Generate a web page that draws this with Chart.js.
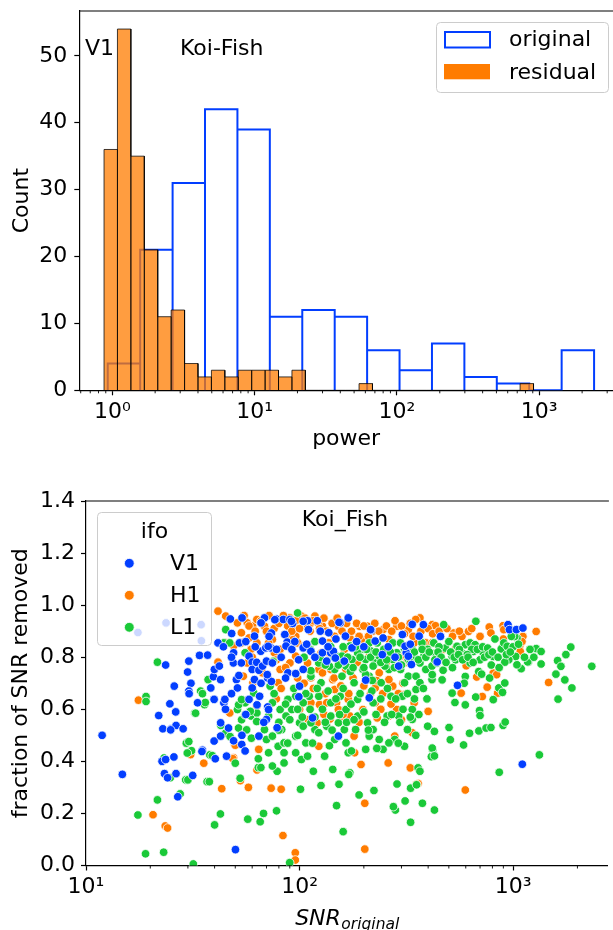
<!DOCTYPE html>
<html>
<head>
<meta charset="utf-8">
<script src="https://cdn.jsdelivr.net/npm/chart.js@4.4.1/dist/chart.umd.min.js"></script>
<style>
html,body{margin:0;padding:0;background:#fff;width:613px;height:930px;overflow:hidden}
canvas{position:absolute;left:0}
#c1{top:0}
#c2{top:465px}
</style>
</head>
<body>
<canvas id="c1" width="613" height="465"></canvas>
<canvas id="c2" width="613" height="465"></canvas>
<script>
// ---------------- DATA ----------------
// Top panel: histogram of power (log bins)
const originalEdges = [0.929,1.570,2.653,4.482,7.572,12.79,21.62,36.53,61.72,104.3,176.2,297.7,503.0,849.8,1436,2427];
const originalCounts = [4,21,31,42,39,11,12,11,6,3,7,2,1,0,6];
const residualEdges = [0.875,1.087,1.351,1.679,2.086,2.592,3.220,4.001,4.971,6.176,7.674,9.535,11.85,14.72,18.29,22.73,28.23,35.09,43.60,54.17,67.30,83.62,103.9,129.1,160.4,199.3,247.6,307.7,382.3,475.0,590.2,733.3,911.1];
const residualCounts = [36,54,35,21,11,12,4,2,3,2,3,3,3,2,3,0,0,0,0,1,0,0,0,0,0,0,0,0,0,0,0,1];
const powerMajorTicks = [1,10,100,1000];
const powerTickLabels = ['10\u2070','10\u00b9','10\u00b2','10\u00b3'];
const powerMinorTicks = [0.6,0.7,0.8,0.9,2,3,4,5,6,7,8,9,20,30,40,50,60,70,80,90,200,300,400,500,600,700,800,900,2000,3000];
const countTicks = [0,10,20,30,40,50];

// Bottom panel: fraction of SNR removed vs SNR_original, per detector
const v1Points = [[11.9,0.50],[14.8,0.35],[23.6,0.77],[21.9,0.576],[22.9,0.525],[25.9,0.689],[24.7,0.621],[26.3,0.59],[25.1,0.525],[26.4,0.538],[28.5,0.525],[22.7,0.40],[23.6,0.407],[25.8,0.417],[23.3,0.353],[24.1,0.337],[26.4,0.353],[26.9,0.264],[31.6,0.346],[30.3,0.785],[29.9,0.743],[31.0,0.70],[30.3,0.67],[30.4,0.66],[33.3,0.625],[34.0,0.807],[37.1,0.808],[35.1,0.443],[38.4,0.682],[39.5,0.725],[39.9,0.753],[39.8,0.638],[39.8,0.478],[40.3,0.41],[41.5,0.855],[42.7,0.548],[42.7,0.497],[42.1,0.766],[42.7,0.714],[44.2,0.625],[44.7,0.638],[45.5,0.42],[47.4,0.947],[48.1,0.891],[49.1,0.817],[50.1,0.061],[49.0,0.778],[50.6,0.714],[51.2,0.682],[52.3,0.855],[53.8,0.951],[53.4,0.778],[53.6,0.465],[53.7,0.50],[55.6,0.44],[58.0,0.804],[60.0,0.781],[60.0,0.753],[60.0,0.682],[58.0,0.638],[61.5,0.714],[61.5,0.881],[63.0,0.78],[64.5,0.75],[64.5,0.497],[65.8,0.823],[67.1,0.766],[68.5,0.951],[69.5,0.836],[70.0,0.785],[70.9,0.72],[70.9,0.609],[71.6,0.599],[70.0,0.561],[73.3,0.836],[74.6,0.778],[77.8,0.947],[78.5,0.529],[83.9,0.945],[85.3,0.887],[87.5,0.858],[86.4,0.843],[88.2,0.74],[90.1,0.945],[92.8,0.93],[92.0,0.83],[95.9,0.737],[100,0.689],[99.2,0.648],[104,0.836],[104,0.753],[109,0.94],[110,0.906],[113,0.823],[115,0.567],[121,0.94],[128,0.862],[128,0.817],[134,0.785],[137,0.894],[140,0.817],[144,0.823],[147,0.797],[152,0.497],[155,0.932],[162,0.785],[164,0.881],[169,0.951],[176,0.836],[204,0.712],[212,0.644],[217,0.904],[226,0.862],[246,0.874],[244,0.81],[291,0.766],[303,0.887],[316,0.817],[323,0.804],[334,0.772],[337,0.926],[363,0.881],[946,0.925],[961,0.906],[1036,0.906],[1111,0.912],[457,0.88],[441,0.782],[549,0.692],[1104,0.389],[17.5,0.895],[23.7,0.932],[34.6,0.925],[34.7,0.863],[24.9,0.521],[34.9,0.438],[46.5,0.528],[49.1,0.479],[63.2,0.617],[76.6,0.944],[91.6,0.938],[104,0.938],[153,0.934],[215,0.906],[380,0.925],[312,0.842],[73.8,0.893],[71.3,0.842],[66,0.932],[73.8,0.707],[70.6,0.733],
[44,0.84],[48,0.80],[52,0.73],[56,0.86],[62,0.84],[66,0.70],[72,0.88],[78,0.83],[82,0.80],[86,0.72],[95,0.86],[99,0.79],[108,0.85],[118,0.80],[125,0.90],[136,0.84],[148,0.87],[185,0.86],[200,0.84],[260,0.84],[280,0.80],[330,0.85],[45,0.60],[48,0.66],[56,0.58],[65,0.65],[68,0.55]];

const h1Points = [[17.6,0.635],[41.5,0.781],[41.5,0.977],[45.1,0.958],[47.1,0.586],[49.7,0.465],[49.1,0.414],[51.2,0.932],[53.4,0.894],[56.9,0.932],[60.3,0.919],[63.1,0.945],[58,0.874],[59.3,0.83],[56.9,0.778],[54.5,0.727],[60.5,0.702],[63.1,0.612],[64.4,0.446],[68.5,0.919],[74.6,0.868],[76.2,0.817],[81.1,0.753],[79.4,0.702],[77.8,0.64],[88.2,0.881],[93.9,0.919],[97.9,0.855],[95.9,0.804],[102,0.958],[109,0.913],[113,0.932],[118,0.958],[113,0.721],[113,0.625],[123,0.458],[121,0.548],[124,0.618],[137,0.855],[140,0.753],[143,0.714],[146,0.676],[149,0.625],[139,0.563],[152,0.919],[162,0.83],[165,0.753],[169,0.638],[158,0.574],[180,0.497],[181,0.433],[191,0.919],[195,0.868],[194,0.388],[208,0.919],[212,0.804],[226,0.682],[231,0.567],[236,0.74],[246,0.906],[260,0.394],[262,0.574],[273,0.689],[279,0.497],[285,0.919],[297,0.804],[310,0.657],[320,0.522],[330,0.375],[337,0.51],[344,0.625],[359,0.315],[366,0.951],[382,0.919],[390,0.855],[433,0.919],[95.9,0.881],[128,0.919],[172,0.874],[183,0.855],[221,0.906],[262,0.868],[323,0.906],[344,0.855],[417,0.855],[470,0.83],[81.1,0.83],[71.6,0.855],[63.1,0.855],[45.1,0.855],[49.1,0.843],[53.4,0.855],[90.1,0.778],[109,0.778],[123,0.753],[134,0.625],[152,0.599],[172,0.574],[198,0.599],[226,0.625],[262,0.714],[285,0.599],[20.6,0.195],[23.5,0.152],[24.1,0.144],[30.9,0.426],[35.6,0.393],[43.2,0.295],[48.7,0.41],[52.8,0.326],[50,0.462],[57.6,0.3],[63.2,0.367],[95.5,0.049],[95.5,0.021],[83.6,0.115],[202,0.063],[202,0.239],[73.6,0.297],[82,0.293],[400,0.592],[353,0.312],[597,0.29],[571,0.662],[717,0.649],[756,0.685],[846,0.662],[1466,0.703],[773,0.916],[787,0.893],[897,0.921],[904,0.906],[1282,0.899],[1072,0.842],[1080,0.822],[1111,0.88],[418,0.925],[433,0.921],[526,0.893],[576,0.88],[618,0.899],[538,0.835],[603,0.767],[675,0.724],[807,0.739],[837,0.733],[89.9,0.951],[109,0.942],[122,0.932],[219,0.899],[329,0.803],[239,0.807],[173,0.842],[148,0.803],[138,0.816],[126,0.816],[113,0.822],[104,0.842],[93,0.867],[85.1,0.887],
[55,0.96],[58,0.92],[62,0.90],[66,0.94],[70,0.90],[72,0.96],[76,0.91],[80,0.93],[84,0.96],[88,0.92],[92,0.90],[96,0.94],[100,0.91],[106,0.95],[112,0.90],[116,0.94],[124,0.91],[130,0.95],[134,0.90],[142,0.93],[146,0.88],[150,0.95],[158,0.90],[166,0.93],[175,0.90],[185,0.93],[190,0.88],[200,0.92],[210,0.88],[225,0.93],[235,0.90],[255,0.92],[270,0.90],[280,0.94],[300,0.92],[310,0.89],[330,0.93],[340,0.88],[350,0.945],[370,0.90],[400,0.91],[420,0.89],[450,0.90],[490,0.91],[520,0.88],[560,0.90],[640,0.91],[700,0.88],[900,0.87],[1010,0.88],[1100,0.86],
[78,0.79],[86,0.76],[98,0.72],[105,0.70],[116,0.68],[128,0.74],[132,0.66],[145,0.72],[156,0.69],[170,0.66],[178,0.72],[186,0.78],[200,0.69],[215,0.66],[230,0.71],[245,0.66],[255,0.78],[268,0.62],[290,0.66],[305,0.70],[318,0.78],[60,0.80],[67,0.74],[82,0.68],[100,0.60],[110,0.56],[130,0.58],[160,0.58],[190,0.55],[240,0.60],[300,0.56]];

const l1Points = [[21.6,0.781],[32.3,0.586],[34.4,0.67],[35.9,0.618],[37.3,0.714],[44.2,0.855],[45.1,0.906],[47.1,0.855],[55.6,0.817],[59.3,0.574],[61.0,0.663],[63.1,0.554],[51.2,0.599],[63.1,0.586],[55.6,0.625],[19.1,0.649],[19.1,0.63],[17.5,0.194],[19.0,0.045],[21.6,0.252],[23.1,0.051],[23.2,0.413],[24.8,0.337],[27.6,0.275],[29.3,0.329],[30.0,0.329],[29.5,0.47],[30.3,0.476],[31.2,0.441],[29.8,0.432],[31.8,0.006],[36.9,0.322],[37.8,0.322],[38,0.425],[39,0.422],[40,0.156],[42.6,0.198],[52.7,0.335],[50,0.393],[57.2,0.178],[51.8,0.528],[56.5,0.521],[59.5,0.489],[64.1,0.376],[65.9,0.376],[64.1,0.41],[42.8,0.538],[32.6,0.585],[35.1,0.66],[36.2,0.626],[45,0.508],[47.3,0.495],[53.5,0.56],[55.5,0.579],[63,0.553],[51.8,0.617],[53.5,0.637],[58.8,0.592],[70,0.484],[71.6,0.433],[72.8,0.689],[74.6,0.625],[78.5,0.362],[79.4,0.458],[82.5,0.522],[84.6,0.433],[86.4,0.574],[92,0.599],[95.9,0.497],[97.9,0.97],[100,0.548],[102,0.407],[104,0.535],[107,0.471],[109,0.42],[111,0.65],[113,0.727],[116,0.362],[118,0.522],[123,0.778],[126,0.702],[131,0.42],[134,0.535],[137,0.843],[140,0.574],[143,0.369],[146,0.484],[149,0.804],[155,0.65],[158,0.727],[162,0.522],[165,0.599],[169,0.433],[172,0.356],[176,0.791],[180,0.702],[183,0.522],[187,0.638],[195,0.83],[198,0.753],[204,0.446],[208,0.548],[212,0.497],[217,0.823],[221,0.625],[226,0.778],[231,0.855],[236,0.484],[246,0.446],[251,0.804],[257,0.574],[262,0.753],[268,0.65],[273,0.855],[279,0.484],[291,0.574],[297,0.753],[303,0.65],[310,0.83],[320,0.522],[323,0.727],[337,0.561],[344,0.804],[351,0.676],[359,0.375],[366,0.362],[374,0.855],[390,0.753],[398,0.535],[417,0.714],[158,0.804],[172,0.843],[187,0.817],[204,0.791],[212,0.855],[236,0.804],[251,0.766],[273,0.791],[285,0.817],[297,0.855],[323,0.791],[337,0.83],[366,0.778],[382,0.804],[398,0.83],[417,0.766],[351,0.727],[241,0.702],[212,0.727],[262,0.804],[221,0.766],[165,0.766],[146,0.753],[123,0.65],[104,0.625],[95.9,0.65],[88.2,0.638],[81.1,0.599],[71.6,0.574],[68.5,0.522],[74.6,0.497],[84.6,0.471],[95.9,0.433],[84.6,0.394],[74.6,0.382],[113,0.548],[123,0.51],[140,0.625],[152,0.548],[165,0.471],[187,0.574],[221,0.522],[262,0.471],[310,0.458],[337,0.599],[310,0.702],[366,0.702],[75.2,0.784],[96.4,0.737],[113,0.748],[138,0.765],[159,0.78],[173,0.745],[204,0.733],[219,0.711],[89.9,0.011],[160,0.13],[331,0.166],[281,0.213],[312,0.248],[149,0.23],[190,0.271],[223,0.288],[286,0.313],[331,0.297],[353,0.31],[101,0.293],[126,0.307],[153,0.312],[170,0.35],[67.8,0.2],[78,0.21],[65.4,0.168],[420,0.444],[414,0.418],[376,0.239],[275,0.226],[669,0.938],[1282,0.833],[1862,0.839],[1766,0.81],[1615,0.787],[1674,0.765],[1586,0.735],[1746,0.713],[2335,0.765],[1884,0.682],[1352,0.822],[1180,0.782],[1091,0.756],[1042,0.771],[1028,0.803],[1042,0.874],[1017,0.88],[981,0.88],[954,0.79],[914,0.781],[880,0.832],[904,0.855],[938,0.842],[822,0.87],[807,0.803],[725,0.816],[700,0.79],[651,0.822],[629,0.778],[597,0.848],[576,0.816],[546,0.842],[518,0.803],[538,0.79],[482,0.835],[473,0.925],[425,0.855],[433,0.816],[441,0.778],[418,0.733],[465,0.713],[597,0.726],[690,0.745],[712,0.735],[776,0.72],[857,0.682],[914,0.701],[1170,0.782],[1352,0.774],[629,0.855],[664,0.848],[640,0.83],[680,0.83],[720,0.84],[760,0.835],[610,0.81],[560,0.83],[500,0.86],[450,0.84],[790,0.77],[860,0.76],[1000,0.84],[1130,0.80],[1250,0.80],[520,0.76],[470,0.75],[590,0.70],[428,0.213],[861,0.358],[1327,0.425],[508,0.483],[586,0.463],[501,0.53],[625,0.508],[691,0.517],[747,0.528],[787,0.53],[897,0.538],[918,0.551],[428,0.515],[418,0.451],[428,0.421],[696,0.595],[700,0.576],[518,0.662],[534,0.626],[597,0.617],[668,0.647],[807,0.637],[892,0.665],[1623,0.639],
[105,0.80],[112,0.83],[118,0.86],[125,0.80],[132,0.77],[140,0.84],[145,0.80],[152,0.77],[160,0.84],[168,0.80],[178,0.76],[183,0.84],[192,0.80],[200,0.76],[206,0.83],[215,0.80],[228,0.82],[240,0.78],[248,0.83],[256,0.79],[266,0.82],[278,0.76],[290,0.80],[300,0.77],[315,0.82],[330,0.78],[345,0.82],[360,0.79],[375,0.83],[390,0.80],[405,0.82],[430,0.79],[445,0.82],[460,0.80],[485,0.78],[510,0.82],[530,0.80],[555,0.81],[580,0.79],[615,0.80],[650,0.78],[735,0.80],[770,0.81],[800,0.82],[850,0.80],[930,0.81],[970,0.82],[1060,0.85],[1200,0.83],
[76,0.66],[80,0.55],[86,0.62],[90,0.56],[94,0.68],[98,0.60],[103,0.57],[107,0.66],[112,0.60],[118,0.57],[121,0.68],[128,0.60],[132,0.55],[136,0.67],[142,0.52],[148,0.64],[154,0.58],[160,0.68],[166,0.55],[174,0.62],[180,0.56],[192,0.66],[200,0.59],[210,0.52],[218,0.67],[228,0.58],[240,0.64],[250,0.55],[258,0.68],[270,0.58],[282,0.64],[295,0.55],[305,0.60],[320,0.66],[330,0.57],[345,0.64],[362,0.58],[380,0.68],[395,0.64],[115,0.47],[138,0.46],[175,0.44],[230,0.45],[290,0.47],[350,0.50],[88,0.47],[98,0.50],[80,0.52]];

const snrMajorTicks = [10,100,1000];
const snrTickLabels = ['10\u00b9','10\u00b2','10\u00b3'];
const snrMinorTicks = [20,30,40,50,60,70,80,90,200,300,400,500,600,700,800,900,2000];
const fracTicks = [0,0.2,0.4,0.6,0.8,1.0,1.2,1.4];

// ---------------- HELPERS ----------------
const FAMILY = '"DejaVu Sans", "Liberation Sans", sans-serif';
Chart.defaults.font.family = FAMILY;
Chart.defaults.color = '#000';
const FS = 22;

function histOutline(edges, counts) {
  const pts = [{x: edges[0], y: 0}];
  counts.forEach((c, i) => {
    pts.push({x: edges[i], y: c}, {x: edges[i + 1], y: c}, {x: edges[i + 1], y: 0});
  });
  return pts;
}
function labelFor(vals, labels, v) {
  const i = vals.findIndex(m => Math.abs(m - v) <= m * 1e-6);
  return i >= 0 ? labels[i] : '';
}
function rrect(ctx, x, y, w, h, r) {
  ctx.beginPath();
  ctx.moveTo(x + r, y);
  ctx.arcTo(x + w, y, x + w, y + h, r);
  ctx.arcTo(x + w, y + h, x, y + h, r);
  ctx.arcTo(x, y + h, x, y, r);
  ctx.arcTo(x, y, x + w, y, r);
  ctx.closePath();
}
function drawFrame(chart, minors) {
  const {ctx, chartArea: a, scales: {x}} = chart;
  ctx.save();
  ctx.strokeStyle = '#000';
  ctx.lineWidth = 1.2;
  ctx.beginPath(); ctx.moveTo(a.left, a.top); ctx.lineTo(a.right + 1, a.top); ctx.stroke();
  ctx.lineWidth = 0.9;
  minors.forEach(v => {
    const p = x.getPixelForValue(v);
    if (p < a.left || p > a.right) return;
    ctx.beginPath(); ctx.moveTo(p, a.bottom); ctx.lineTo(p, a.bottom + 3); ctx.stroke();
  });
  ctx.restore();
}
const toXY = arr => arr.map(([x, y]) => ({x, y}));
const fixX = (h) => (s) => { s.height = h; s.paddingLeft = 0; s.paddingRight = 0; };
const fixY = (w) => (s) => { s.width = w; s.paddingTop = 0; s.paddingBottom = 0; };

const blue = '#023eff', orange = '#ff7c00', green = '#1ac938';

// ---------------- TOP CHART ----------------
const topDeco = {
  id: 'topDeco',
  afterDraw(chart) {
    const ctx = chart.ctx;
    drawFrame(chart, powerMinorTicks);
    ctx.save();
    ctx.fillStyle = '#000';
    ctx.font = FS + 'px ' + FAMILY;
    ctx.textBaseline = 'alphabetic';
    ctx.textAlign = 'left';
    ctx.fillText('V1', 85, 55);
    ctx.fillText('Koi-Fish', 180, 55);
    // legend
    rrect(ctx, 436.5, 22.5, 172, 70, 4);
    ctx.fillStyle = 'rgba(255,255,255,0.8)';
    ctx.fill();
    ctx.strokeStyle = '#cccccc';
    ctx.lineWidth = 1;
    ctx.stroke();
    ctx.strokeStyle = blue;
    ctx.lineWidth = 2;
    ctx.strokeRect(445, 32, 45, 15.5);
    ctx.fillStyle = orange;
    ctx.fillRect(444, 64, 46, 15.3);
    ctx.fillStyle = '#000';
    ctx.fillText('original', 509, 46);
    ctx.fillText('residual', 509, 79);
    ctx.restore();
  }
};

new Chart(document.getElementById('c1'), {
  type: 'line',
  data: {
    datasets: [
      { label: 'residual', data: histOutline(residualEdges, residualCounts),
        borderColor: 'rgba(0,0,0,0.75)', borderWidth: 1, backgroundColor: 'rgba(255,124,0,0.75)',
        fill: 'origin', pointRadius: 0, tension: 0, order: 0 },
      { label: 'original', data: histOutline(originalEdges, originalCounts),
        borderColor: blue, borderWidth: 2, backgroundColor: 'rgba(0,0,0,0)',
        fill: false, pointRadius: 0, tension: 0, order: 1 }
    ]
  },
  options: {
    responsive: false, animation: false, devicePixelRatio: 1, events: [],
    layout: { padding: { top: 11, right: 0, bottom: 0, left: 0 } },
    plugins: { legend: { display: false }, tooltip: { enabled: false } },
    scales: {
      x: {
        type: 'logarithmic', position: 'bottom', min: 0.5864, max: 3296, z: 1,
        afterBuildTicks: s => { s.ticks = powerMajorTicks.map(v => ({ value: v })); },
        afterFit: fixX(74.7),
        ticks: { autoSkip: false, maxRotation: 0, minRotation: 0, padding: 4, color: '#000', font: { size: FS },
          callback: v => labelFor(powerMajorTicks, powerTickLabels, v) },
        grid: { drawOnChartArea: false, drawTicks: true, tickLength: 5, tickWidth: 1.2, tickColor: '#000' },
        border: { display: true, color: '#000', width: 1.2 },
        title: { display: true, text: 'power', color: '#000', font: { size: FS }, padding: { top: 0, bottom: 13 } }
      },
      y: {
        type: 'linear', position: 'left', min: 0, max: 56.7, z: 1,
        afterBuildTicks: s => { s.ticks = countTicks.map(v => ({ value: v })); },
        afterFit: fixY(79.3),
        ticks: { autoSkip: false, padding: 7, color: '#000', font: { size: FS }, callback: v => String(v) },
        grid: { drawOnChartArea: false, drawTicks: true, tickLength: 5, tickWidth: 1.2, tickColor: '#000' },
        border: { display: true, color: '#000', width: 1.2 },
        title: { display: true, text: 'Count', color: '#000', font: { size: FS }, padding: { top: 9, bottom: 0 } }
      }
    }
  },
  plugins: [topDeco]
});

// ---------------- BOTTOM CHART ----------------
const botDeco = {
  id: 'botDeco',
  afterDraw(chart) {
    const ctx = chart.ctx;
    const a = chart.chartArea;
    drawFrame(chart, snrMinorTicks);
    ctx.save();
    ctx.fillStyle = '#000';
    ctx.font = FS + 'px ' + FAMILY;
    ctx.textBaseline = 'alphabetic';
    ctx.textAlign = 'center';
    ctx.fillText('Koi_Fish', 345, 61);
    // legend
    rrect(ctx, 97.5, 47.5, 114, 133, 4);
    ctx.fillStyle = 'rgba(255,255,255,0.8)';
    ctx.fill();
    ctx.strokeStyle = '#cccccc';
    ctx.lineWidth = 1;
    ctx.stroke();
    ctx.fillStyle = '#000';
    ctx.fillText('ifo', 154.5, 73);
    ctx.textAlign = 'left';
    const items = [['V1', blue, 98.3, 105], ['H1', orange, 130.3, 137], ['L1', green, 162.3, 168.5]];
    items.forEach(([t, c, my, by]) => {
      ctx.beginPath();
      ctx.arc(129.3, my, 4.9, 0, Math.PI * 2);
      ctx.fillStyle = c; ctx.fill();
      ctx.strokeStyle = '#fff'; ctx.lineWidth = 0.8; ctx.stroke();
      ctx.fillStyle = '#000';
      ctx.fillText(t, 170, by);
    });
    // x-axis label: SNR_original (italic with subscript)
    const big = 'italic ' + FS + 'px ' + FAMILY;
    const small = 'italic 15.5px ' + FAMILY;
    ctx.font = big; const w1 = ctx.measureText('SNR').width;
    ctx.font = small; const w2 = ctx.measureText('original').width;
    const cx = (a.left + a.right) / 2;
    const x0 = cx - (w1 + w2) / 2;
    ctx.font = big; ctx.fillText('SNR', x0, 460);
    ctx.font = small; ctx.fillText('original', x0 + w1 + 0.5, 464);
    ctx.restore();
  }
};

const pointStyle = (color) => ({
  backgroundColor: color, borderColor: '#ffffff', borderWidth: 0.8, pointRadius: 4.3, pointHoverRadius: 4.3
});

new Chart(document.getElementById('c2'), {
  type: 'scatter',
  data: {
    datasets: [
      Object.assign({ label: 'V1', data: toXY(v1Points), order: 1 }, pointStyle(blue)),
      Object.assign({ label: 'H1', data: toXY(h1Points), order: 3 }, pointStyle(orange)),
      Object.assign({ label: 'L1', data: toXY(l1Points), order: 2 }, pointStyle(green))
    ]
  },
  options: {
    responsive: false, animation: false, devicePixelRatio: 1, events: [],
    layout: { padding: { top: 36, right: 0, bottom: 0, left: 0 } },
    plugins: { legend: { display: false }, tooltip: { enabled: false } },
    scales: {
      x: {
        type: 'logarithmic', position: 'bottom', min: 10, max: 2778, z: 1,
        afterBuildTicks: s => { s.ticks = snrMajorTicks.map(v => ({ value: v })); },
        afterFit: fixX(64.5),
        ticks: { autoSkip: false, maxRotation: 0, minRotation: 0, padding: 4, color: '#000', font: { size: FS },
          callback: v => labelFor(snrMajorTicks, snrTickLabels, v) },
        grid: { drawOnChartArea: false, drawTicks: true, tickLength: 5, tickWidth: 1.2, tickColor: '#000' },
        border: { display: true, color: '#000', width: 1.2 },
        title: { display: false }
      },
      y: {
        type: 'linear', position: 'left', min: 0, max: 1.4, z: 1,
        afterBuildTicks: s => { s.ticks = fracTicks.map(v => ({ value: v })); },
        afterFit: fixY(86),
        ticks: { autoSkip: false, padding: 6, color: '#000', font: { size: FS }, callback: v => Number(v).toFixed(1) },
        grid: { drawOnChartArea: false, drawTicks: true, tickLength: 5, tickWidth: 1.2, tickColor: '#000' },
        border: { display: true, color: '#000', width: 1.2 },
        title: { display: true, text: 'fraction of SNR removed', color: '#000', font: { size: FS }, padding: { top: 8, bottom: 0 } }
      }
    }
  },
  plugins: [botDeco]
});
</script>
</body>
</html>
